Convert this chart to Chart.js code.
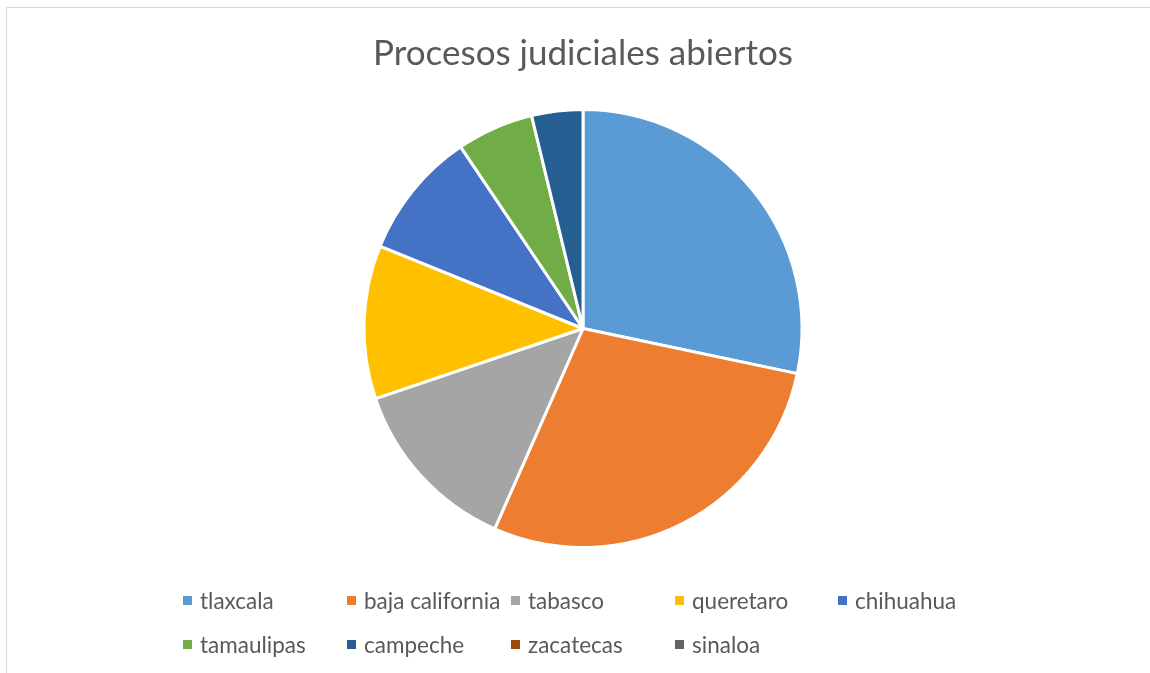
<!DOCTYPE html>
<html>
<head>
<meta charset="utf-8">
<script src="https://cdn.jsdelivr.net/npm/chart.js@4.4.0/dist/chart.umd.min.js"></script>
<style>
    body { margin: 0; background: #fff; overflow: hidden; width: 1150px; height: 673px; position: relative; }
    #frame { position: absolute; left: 6px; top: 7px; width: 1160px; height: 700px; border: 1px solid #d9d9d9; box-sizing: border-box; }
    #myChart { position: absolute; left: 8px; top: 0; width: 1150px; height: 673px; }
    #legend { position: absolute; left: 183px; top: 587px; display: grid;
        grid-template-columns: 164px 164px 164px 163px auto; row-gap: 18px;
        font-family: Lato, sans-serif; font-size: 22.5px; color: #595959; }
    #legend div { display: flex; align-items: center; height: 26px; white-space: nowrap; }
    #legend span { display: inline-block; width: 9px; height: 9px; margin-right: 8px; }
</style>
</head>
<body>
<div id="frame"></div>
<canvas id="myChart" width="1150" height="673"></canvas>
<div id="legend"></div>
<script>
const estados = ['tlaxcala', 'baja california', 'tabasco', 'queretaro', 'chihuahua', 'tamaulipas', 'campeche', 'zacatecas', 'sinaloa'];
const procesos = [15, 15, 7, 6, 5, 3, 2, 0, 0];
const colores = ['#5B9BD5', '#ED7D31', '#A5A5A5', '#FFC000', '#4472C4', '#70AD47', '#255E91', '#9E480E', '#636363'];

const ctx = document.getElementById('myChart');
new Chart(ctx, {
    type: 'pie',
    data: {
        labels: estados,
        datasets: [{
            data: procesos,
            backgroundColor: colores,
            borderColor: '#ffffff',
            borderWidth: 3,
            hoverOffset: 0
        }]
    },
    options: {
        responsive: false,
        animation: false,
        layout: { padding: { bottom: 124 } },
        plugins: {
            legend: { display: false },
            tooltip: { enabled: false },
            title: {
                display: true,
                text: 'Procesos judiciales abiertos',
                color: '#595959',
                font: { family: 'Lato', size: 35, weight: 'normal' },
                padding: { top: 33, bottom: 33 }
            }
        }
    }
});

// legend as a grid, like the original
const legend = document.getElementById('legend');
estados.forEach(function(nombre, i) {
    const item = document.createElement('div');
    item.innerHTML = '<span style="background:' + colores[i] + '"></span>' + nombre;
    legend.appendChild(item);
});
</script>
</body>
</html>
